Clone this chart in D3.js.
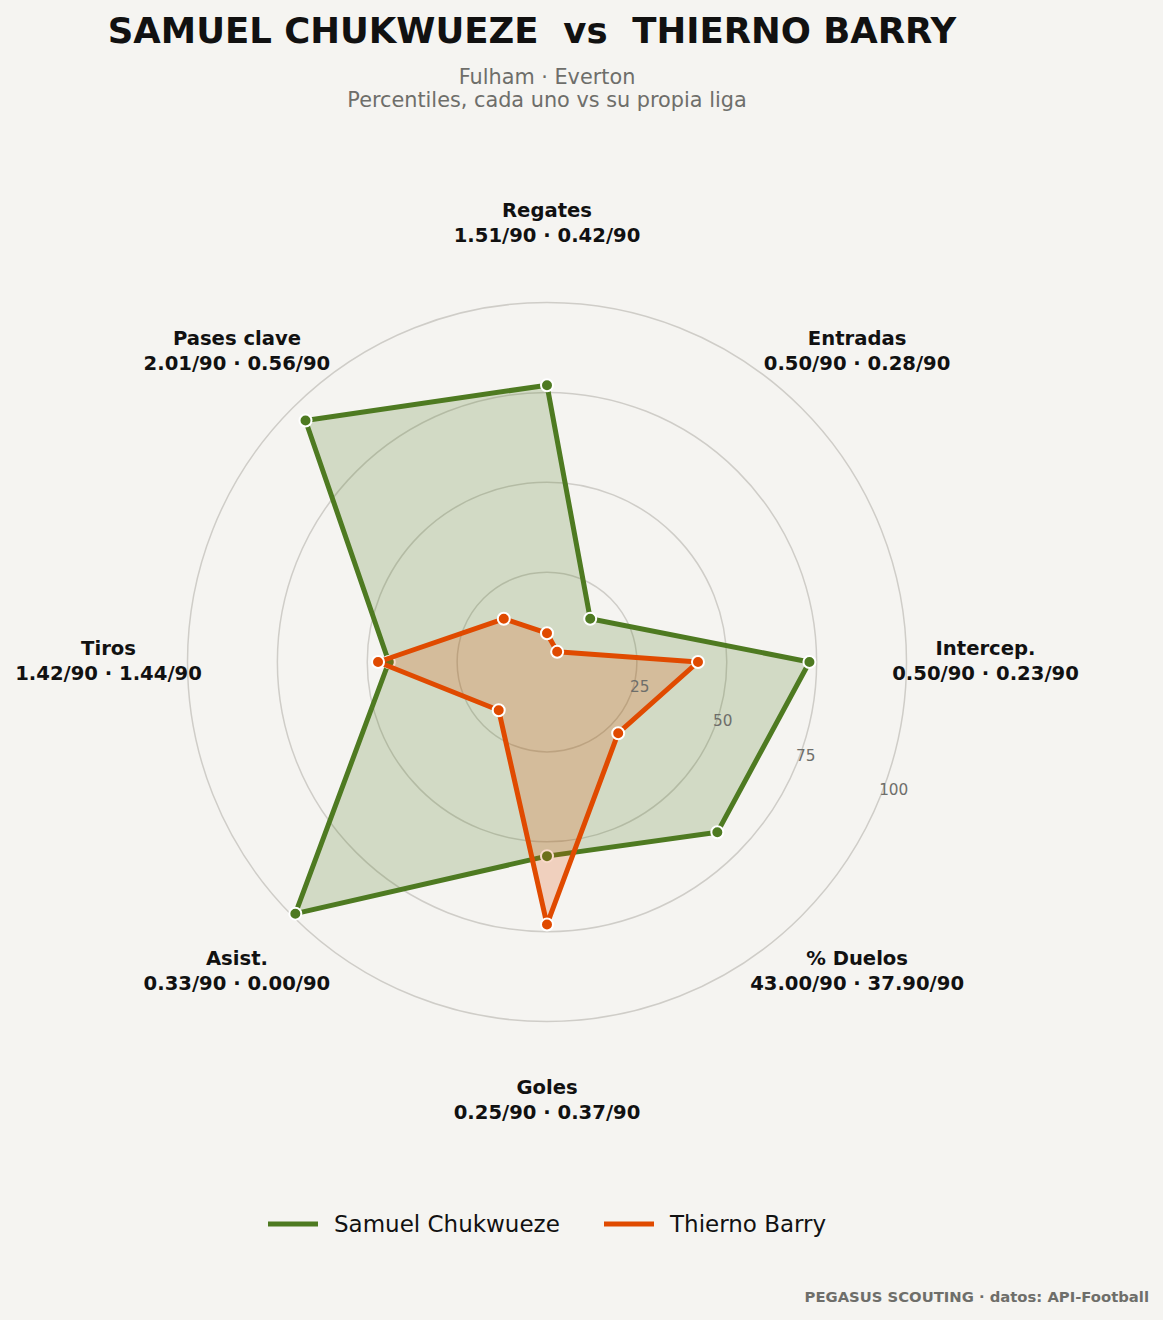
<!DOCTYPE html>
<html>
<head>
<meta charset="utf-8">
<script src="https://cdn.jsdelivr.net/npm/d3@7"></script>
<style>
  html, body { margin: 0; padding: 0; background: #f5f4f1; }
  svg { display: block; font-family: "DejaVu Sans", sans-serif; }
</style>
</head>
<body>
<svg id="chart" width="1163" height="1320"></svg>
<script>
// categories, clockwise from the top
const categories = ['Regates', 'Entradas', 'Intercep.', '% Duelos', 'Goles', 'Asist.', 'Tiros', 'Pases clave'];
// percentile of each player vs his own league
const chukwuezePct = [77, 17, 73, 67, 54, 99, 44, 95];
const barryPct = [8, 4, 42, 28, 73, 19, 47, 17];
// raw per-90 values shown under each label
const chukwuezeP90 = ['1.51', '0.50', '0.50', '43.00', '0.25', '0.33', '1.42', '2.01'];
const barryP90 = ['0.42', '0.28', '0.23', '37.90', '0.37', '0.00', '1.44', '0.56'];
const ringTicks = [25, 50, 75, 100];
const playerNames = ['Samuel Chukwueze', 'Thierno Barry'];
const playerColors = ['#4e7a21', '#e04a00'];

const width = 1163, height = 1320;
const cx = 547, cy = 662;
const outerR = 359.5;
const labelR = 438.5;

const svg = d3.select('#chart');
svg.append('rect').attr('width', width).attr('height', height).attr('fill', '#f5f4f1');

const r = d3.scaleLinear().domain([0, 100]).range([0, outerR]);
const angle = d3.scaleLinear().domain([0, categories.length]).range([0, 2 * Math.PI]);

const g = svg.append('g').attr('transform', 'translate(' + cx + ',' + cy + ')');

// rings
g.selectAll('.ring')
  .data(ringTicks)
  .enter().append('circle')
  .attr('class', 'ring')
  .attr('r', d => r(d))
  .attr('fill', 'none')
  .attr('stroke', '#cfcdc8')
  .attr('stroke-width', 1.5);

function pt(i, v) {
  const a = angle(i);
  return [r(v) * Math.sin(a), -r(v) * Math.cos(a)];
}

const line = d3.lineRadial()
  .angle((d, i) => angle(i))
  .radius(d => r(d))
  .curve(d3.curveLinearClosed);

const series = [chukwuezePct, barryPct];
series.forEach(function (vals, s) {
  const col = playerColors[s];
  const sg = g.append('g').attr('class', 'series');
  sg.append('path')
    .attr('d', line(vals))
    .attr('fill', col)
    .attr('fill-opacity', 0.21)
    .attr('stroke', 'none');
  sg.append('path')
    .attr('d', line(vals))
    .attr('fill', 'none')
    .attr('stroke', col)
    .attr('stroke-width', 5)
    .attr('stroke-linejoin', 'round');
  sg.selectAll('.dot')
    .data(vals)
    .enter().append('circle')
    .attr('class', 'dot')
    .attr('cx', (d, i) => pt(i, d)[0])
    .attr('cy', (d, i) => pt(i, d)[1])
    .attr('r', 6)
    .attr('fill', col)
    .attr('stroke', '#ffffff')
    .attr('stroke-width', 2);
});

// ring tick labels along 22.5 deg below the right horizontal
const tickAng = 22.5 * Math.PI / 180;
g.selectAll('.tick-label')
  .data(ringTicks)
  .enter().append('text')
  .attr('class', 'tick-label')
  .attr('x', d => r(d) * Math.cos(tickAng))
  .attr('y', d => r(d) * Math.sin(tickAng) - 4.5)
  .attr('font-size', 15.3)
  .attr('fill', '#6e6e6a')
  .text(d => d);

// axis labels
const lab = g.selectAll('.axis-label')
  .data(categories)
  .enter().append('text')
  .attr('class', 'axis-label')
  .attr('text-anchor', 'middle')
  .attr('font-size', 19.6)
  .attr('font-weight', 'bold')
  .attr('fill', '#111111')
  .attr('transform', function (d, i) {
    const a = angle(i);
    return 'translate(' + (labelR * Math.sin(a)) + ',' + (-labelR * Math.cos(a)) + ')';
  });
lab.append('tspan').attr('x', 0).attr('y', -7).text(d => d);
lab.append('tspan').attr('x', 0).attr('y', 18)
  .text((d, i) => chukwuezeP90[i] + '/90 · ' + barryP90[i] + '/90');

// title + subtitle
svg.append('text')
  .attr('x', 532).attr('y', 43)
  .attr('text-anchor', 'middle')
  .attr('font-size', 35.5)
  .attr('font-weight', 'bold')
  .attr('fill', '#111111')
  .style('white-space', 'pre')
  .text('SAMUEL CHUKWUEZE  vs  THIERNO BARRY');

svg.append('text')
  .attr('x', 547).attr('y', 83.5)
  .attr('text-anchor', 'middle')
  .attr('font-size', 20.8)
  .attr('fill', '#6e6e6a')
  .text('Fulham · Everton');
svg.append('text')
  .attr('x', 547).attr('y', 107)
  .attr('text-anchor', 'middle')
  .attr('font-size', 20.8)
  .attr('fill', '#6e6e6a')
  .text('Percentiles, cada uno vs su propia liga');

// legend
const legend = svg.append('g').attr('transform', 'translate(0,1224)');
const legendX = [268, 604];
const item = legend.selectAll('.legend-item')
  .data(playerNames)
  .enter().append('g')
  .attr('class', 'legend-item')
  .attr('transform', (d, i) => 'translate(' + legendX[i] + ',0)');
item.append('line')
  .attr('x1', 0).attr('x2', 50)
  .attr('stroke', (d, i) => playerColors[i])
  .attr('stroke-width', 5);
item.append('text')
  .attr('x', 66).attr('y', 8)
  .attr('font-size', 23)
  .attr('fill', '#111111')
  .text(d => d);

// footer
svg.append('text')
  .attr('x', 1149).attr('y', 1302)
  .attr('text-anchor', 'end')
  .attr('font-size', 14.8)
  .attr('font-weight', 'bold')
  .attr('fill', '#6e6e6a')
  .text('PEGASUS SCOUTING · datos: API-Football');
</script>
</body>
</html>
